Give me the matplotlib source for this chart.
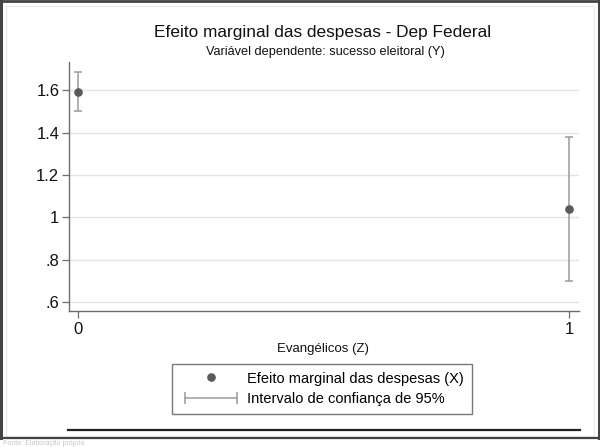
import matplotlib
matplotlib.use("Agg")
import matplotlib.pyplot as plt
from matplotlib.lines import Line2D
from matplotlib.patches import Rectangle
from matplotlib.legend_handler import HandlerLine2D

plt.rcParams['font.family'] = ['Liberation Sans', 'DejaVu Sans']

# Data
categories = [0, 1]
xtick_labels = ["0", "1"]
effects = [1.593, 1.038]
ci_low = [1.502, 0.698]
ci_high = [1.686, 1.381]
yticks = [0.6, 0.8, 1.0, 1.2, 1.4, 1.6]
ytick_labels = [".6", ".8", "1", "1.2", "1.4", "1.6"]

title = "Efeito marginal das despesas - Dep Federal"
subtitle = "Variável dependente: sucesso eleitoral (Y)"
xlabel = "Evangélicos (Z)"
legend_labels = ["Efeito marginal das despesas (X)", "Intervalo de confiança de 95%"]
source_note = "Fonte: Elaboração própria"

W, H = 600, 447
fig = plt.figure(figsize=(6.0, 4.47), dpi=100)
fig.patch.set_facecolor("white")

def fx(px):
    return px / W
def fy(py):
    return 1 - py / H

ax = fig.add_axes([fx(69), fy(311), fx(579) - fx(69), fy(62) - fy(311)])
ax.set_facecolor("white")

ci_color = "#9a9a9a"
dot_color = "#5a5a5a"

ax.errorbar(categories, effects,
            yerr=[[e - l for e, l in zip(effects, ci_low)],
                  [h - e for e, h in zip(effects, ci_high)]],
            fmt="none", ecolor=ci_color, elinewidth=1.1, capsize=3.2,
            capthick=1.1, zorder=2)
ax.plot(categories, effects, "o", color=dot_color, markersize=5.2, zorder=3)

ax.set_xlim(-0.0183, 1.0204)
ax.set_ylim(0.557, 1.733)
ax.set_xticks(categories)
ax.set_xticklabels(xtick_labels, fontsize=12)
ax.set_yticks(yticks)
ax.set_yticklabels(ytick_labels, fontsize=12)
ax.yaxis.grid(True, color="#e4e4e4", lw=1.0)
ax.set_axisbelow(True)

for s in ["top", "right"]:
    ax.spines[s].set_visible(False)
for s in ["left", "bottom"]:
    ax.spines[s].set_color("#6e6e6e")
    ax.spines[s].set_linewidth(1.0)
ax.tick_params(axis="both", colors="#6e6e6e", labelcolor="#111111", length=5, width=0.9)
ax.tick_params(axis="x", pad=3)
ax.tick_params(axis="y", pad=2)

fig.text(fx(323), fy(349), xlabel, fontsize=9.5, ha="center", va="center", color="#111111")

fig.text(fx(323), fy(33), title, fontsize=12.4, ha="center", va="center", color="#111111")
fig.text(fx(325), fy(52), subtitle, fontsize=9.2, ha="center", va="center", color="#111111")

# Legend
dot_handle = Line2D([], [], marker="o", color=dot_color, linestyle="none", markersize=5.2)
ci_handle = Line2D([], [], marker="|", color=ci_color, lw=1.1, markersize=8, markeredgewidth=1.1)
leg = fig.legend([dot_handle, ci_handle], legend_labels,
                 handler_map={dot_handle: HandlerLine2D(numpoints=1),
                              ci_handle: HandlerLine2D(numpoints=2)},
                 loc="center", bbox_to_anchor=(fx(322), fy(389)),
                 fontsize=10.5, frameon=True, fancybox=False, handlelength=4.2,
                 handletextpad=0.35, borderpad=0.55, labelspacing=0.47,
                 borderaxespad=0)
leg.get_frame().set_edgecolor("#555555")
leg.get_frame().set_linewidth(1.0)

# Bottom rule
fig.add_artist(Line2D([fx(68), fx(580)], [fy(429.5), fy(429.5)], color="#222222", lw=1.6))

# Borders
fig.add_artist(Rectangle((fx(6), fy(436)), fx(594) - fx(6), fy(6) - fy(436),
                         fill=False, edgecolor="#ececec", lw=1.0))
fig.add_artist(Line2D([fx(1), fx(1)], [fy(438), 1], color="#444444", lw=2.2))
fig.add_artist(Line2D([fx(598.5), fx(598.5)], [fy(438), 1], color="#444444", lw=2.2))
fig.add_artist(Line2D([0, 1], [fy(0.8), fy(0.8)], color="#444444", lw=2.0))
fig.add_artist(Line2D([0, 1], [fy(438), fy(438)], color="#444444", lw=1.6))

# faint source note
fig.text(fx(3), fy(440), source_note, fontsize=5, color="#c8c8c8",
         ha="left", va="top")

fig.savefig("out.png", dpi=100, facecolor="white")
